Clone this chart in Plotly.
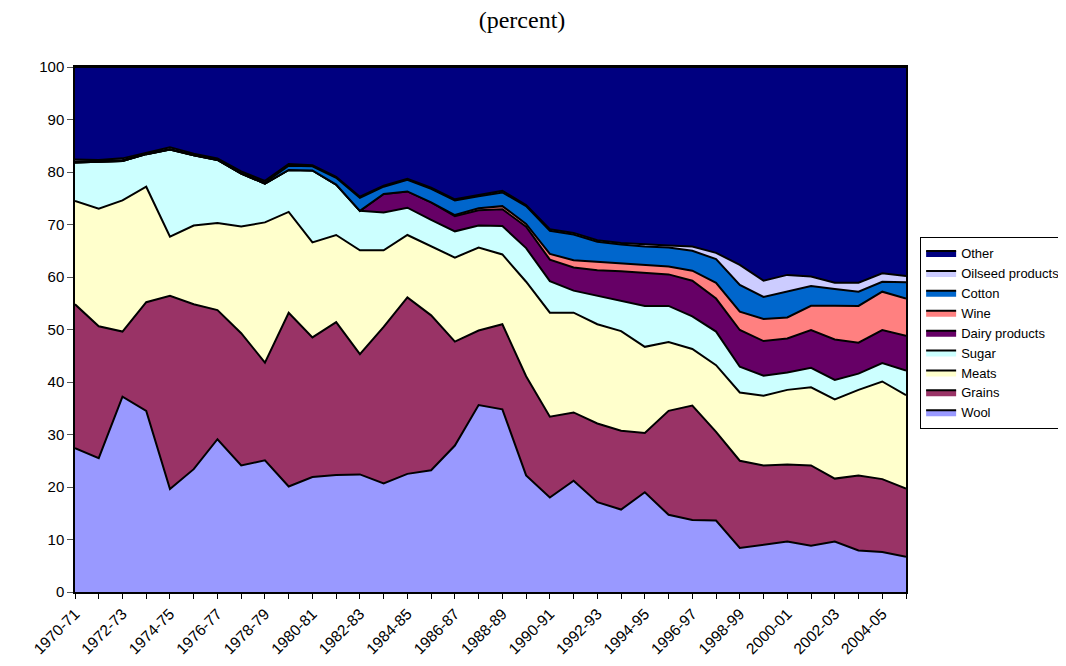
import plotly.graph_objects as go

years = ["1970-71","1971-72","1972-73","1973-74","1974-75","1975-76","1976-77","1977-78",
         "1978-79","1979-80","1980-81","1981-82","1982-83","1983-84","1984-85","1985-86",
         "1986-87","1987-88","1988-89","1989-90","1990-91","1991-92","1992-93","1993-94",
         "1994-95","1995-96","1996-97","1997-98","1998-99","1999-00","2000-01","2001-02",
         "2002-03","2003-04","2004-05","2005-06"]

wool = [27.4,25.5,37.2,34.5,19.6,23.4,29.1,24.1,25.1,20.1,21.9,22.3,22.4,20.7,22.5,23.2,27.9,35.6,
        34.8,22.2,18.0,21.2,17.1,15.7,19.0,14.7,13.7,13.6,8.4,9.0,9.6,8.8,9.6,7.9,7.6,6.7]
grains = [27.4,25.1,12.4,20.7,36.8,31.4,24.6,25.2,18.6,33.1,26.6,29.1,22.9,29.8,33.6,29.5,19.8,14.2,
          16.2,18.9,15.4,13.0,15.0,15.0,11.3,19.8,21.8,16.9,16.6,15.1,14.7,15.3,12.0,14.3,13.9,13.0]
meats = [19.7,22.4,25.0,22.0,11.3,15.0,16.6,20.3,26.7,19.2,18.1,16.6,19.8,14.6,11.9,13.1,16.0,15.8,
         13.3,18.0,19.8,19.0,18.9,19.0,16.4,13.1,10.8,12.7,13.0,13.3,14.2,14.9,15.1,16.3,18.6,17.8]
sugar = [7.3,9.0,7.5,6.2,16.6,13.4,12.0,10.1,7.4,8.0,13.7,9.6,7.5,7.2,5.2,5.1,5.0,4.2,
         5.4,6.4,6.0,4.2,5.4,5.8,7.8,6.9,6.2,6.4,4.9,3.8,3.3,3.7,3.7,3.1,3.5,4.7]
dairy = [0,0,0,0,0,0,0,0,0,0,0,0,0,3.5,3.1,3.3,2.9,2.9,
         3.2,4.1,4.1,4.4,4.9,5.6,6.3,6.0,6.8,6.3,7.0,6.6,6.5,7.2,7.7,5.9,6.3,6.6]
wine = [0,0,0,0,0,0,0,0,0,0,0,0,0,0,0,0,0.2,0.4,
        0.6,0.5,1.1,1.4,1.6,1.5,1.5,1.5,1.9,3.0,3.5,4.2,4.0,4.6,6.4,7.0,7.3,7.1]
cotton = [0.2,0.1,0.2,0.1,0.1,0.1,0.1,0.1,0.2,0.8,0.8,1.3,2.5,1.4,2.2,2.6,2.8,2.3,
          2.6,3.4,4.4,4.9,3.8,3.6,3.5,3.6,3.8,4.5,5.1,4.2,4.9,3.8,3.2,2.7,1.9,3.1]
oilseed = [0.4,0.2,0.3,0.2,0.3,0.2,0.2,0.3,0.3,0.3,0.2,0.2,0.2,0.2,0.2,0.2,0.2,0.2,
           0.3,0.2,0.3,0.3,0.3,0.3,0.4,0.4,0.8,1.2,3.8,3.1,3.2,1.8,1.2,1.7,1.6,1.2]

series = [
    ("Wool", wool, "#9999FF"),
    ("Grains", grains, "#993366"),
    ("Meats", meats, "#FFFFCC"),
    ("Sugar", sugar, "#CCFFFF"),
    ("Dairy products", dairy, "#660066"),
    ("Wine", wine, "#FF8080"),
    ("Cotton", cotton, "#0066CC"),
    ("Oilseed products", oilseed, "#CCCCFF"),
]

other = [round(100 - sum(s[1][i] for s in series), 1) for i in range(len(years))]
series.append(("Other", other, "#000080"))

fig = go.Figure()
for name, vals, col in series:
    fig.add_trace(go.Scatter(
        x=years, y=vals, name=name, mode="lines", stackgroup="one",
        line=dict(color="black", width=2), fillcolor=col,
        hoverinfo="skip",
    ))

ticktext = [y if i % 2 == 0 else "" for i, y in enumerate(years)]

W, H = 1050, 650
fig.update_layout(
    width=W, height=H,
    paper_bgcolor="white", plot_bgcolor="white",
    margin=dict(l=67, r=152, t=59, b=66, autoexpand=False),
    title=dict(text="(percent)", x=514 / W, xanchor="center", y=1 - 12 / H, yanchor="middle",
               font=dict(family="Liberation Serif, Times New Roman, serif", size=24, color="black")),
    font=dict(family="Liberation Sans, Arial, sans-serif", size=14, color="black"),
    showlegend=True,
    legend=dict(
        x=1.017, xanchor="left", y=0.676, yanchor="top",
        traceorder="reversed",
        bordercolor="black", borderwidth=1, bgcolor="white",
        font=dict(family="Liberation Sans, Arial, sans-serif", size=13, color="black"),
        itemwidth=30, tracegroupgap=0,
    ),
    xaxis=dict(
        type="category", range=[0, len(years) - 1],
        tickmode="array", tickvals=years, ticktext=ticktext,
        tickangle=-45, ticks="outside", ticklen=5, tickcolor="black",
        showline=True, linecolor="black", linewidth=1.5, mirror=True,
        showgrid=False, zeroline=False,
        tickfont=dict(size=15.5),
    ),
    yaxis=dict(
        range=[0, 100], tick0=0, dtick=10,
        ticks="outside", ticklen=6, tickcolor="#555555",
        showline=True, linecolor="black", linewidth=1.5, mirror=True,
        showgrid=False, zeroline=False,
        tickfont=dict(size=15),
    ),
)

fig.write_html("out.html")
